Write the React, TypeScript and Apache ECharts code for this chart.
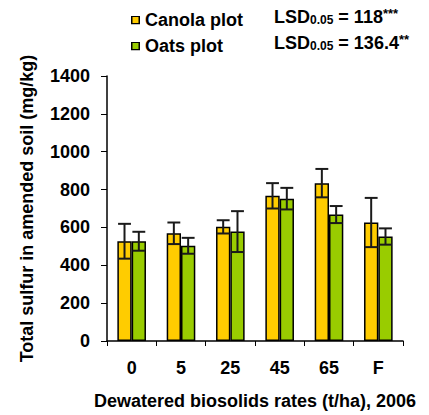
import React, { useEffect, useRef } from "react";
import * as echarts from "echarts";

const categories = ["0", "5", "25", "45", "65", "F"];
const canolaMean = [527, 569, 603, 767, 834, 626];
const canolaErr = [92, 57, 35, 67, 75, 130];
const oatsMean = [527, 503, 578, 752, 668, 552];
const oatsErr = [50, 42, 108, 57, 45, 43];
const seriesNames = ["Canola plot", "Oats plot"];
const lsdLines = [
  { value: "118", stars: "***" },
  { value: "136.4", stars: "**" },
];
const yMax = 1400;
const yInterval = 200;

const FONT = "Liberation Sans, Arial, sans-serif";
const CANOLA = "#FFCC00";
const OATS = "#99CC00";
const GAP = 0.42;

function boxIcon(color: string) {
  const svg =
    "<svg xmlns='http://www.w3.org/2000/svg' width='9' height='9' viewBox='0 0 9 9'>" +
    "<rect x='0.75' y='0.75' width='7.5' height='7.5' fill='" + color + "' stroke='#000' stroke-width='1.5'/></svg>";
  return "image://data:image/svg+xml;charset=utf-8," + encodeURIComponent(svg);
}

function errSeries(name: string, means: number[], errs: number[], side: number) {
  return {
    type: "custom",
    name: name + " err",
    z: 10,
    silent: true,
    data: means.map((m, i) => [i, m - errs[i], m + errs[i]]),
    encode: { x: 0, y: [1, 2] },
    renderItem: (params: any, api: any) => {
      const idx = api.value(0);
      const band = api.size([1, 0])[0];
      const bw = (band * (1 - GAP)) / 2;
      const lo = api.coord([idx, api.value(1)]);
      const hi = api.coord([idx, api.value(2)]);
      const x = lo[0] + side * bw / 2;
      const cap = bw * 0.45;
      const style = { stroke: "#1a1a1a", lineWidth: 2 };
      return {
        type: "group",
        children: [
          { type: "line", shape: { x1: x, y1: lo[1], x2: x, y2: hi[1] }, style },
          { type: "line", shape: { x1: x - cap, y1: hi[1], x2: x + cap, y2: hi[1] }, style },
          { type: "line", shape: { x1: x - cap, y1: lo[1], x2: x + cap, y2: lo[1] }, style },
        ],
      };
    },
  };
}

export default function App() {
  const ref = useRef<HTMLDivElement>(null);
  useEffect(() => {
    if (!ref.current) return;
    const chart = echarts.init(ref.current, null, { renderer: "svg" });
    chart.setOption({
      animation: false,
      textStyle: { fontFamily: FONT },
      legend: {
        orient: "vertical",
        left: 126,
        top: 6,
        itemWidth: 9,
        itemHeight: 9,
        itemGap: 8,
        data: [
          { name: seriesNames[0], icon: boxIcon(CANOLA) },
          { name: seriesNames[1], icon: boxIcon(OATS) },
        ],
        textStyle: { fontFamily: FONT, fontSize: 18, fontWeight: "bold", color: "#000", lineHeight: 18 },
      },
      graphic: lsdLines.map((l, i) => ({
        type: "text",
        left: 274,
        top: 7 + i * 26,
        style: {
          text: "{m|LSD}{s|0.05}{m| = " + l.value + "}{t|" + l.stars + "}",
          rich: {
            m: { fontFamily: FONT, fontSize: 18, fontWeight: "bold", fill: "#000", verticalAlign: "bottom" },
            s: { fontFamily: FONT, fontSize: 12, fontWeight: "bold", fill: "#000", padding: [8, 0, 0, 0], verticalAlign: "bottom" },
            t: { fontFamily: FONT, fontSize: 13, fontWeight: "bold", fill: "#000", padding: [0, 0, 6, 0], verticalAlign: "bottom" },
          },
        },
      })),
      grid: { left: 107, right: 26, top: 76, bottom: 71 },
      xAxis: {
        type: "category",
        data: categories,
        name: "Dewatered biosolids rates (t/ha), 2006",
        nameLocation: "middle",
        nameGap: 51,
        nameTextStyle: { fontFamily: FONT, fontSize: 18, fontWeight: "bold", color: "#000" },
        axisLine: { lineStyle: { color: "#000", width: 1.5 } },
        axisTick: { show: true, length: 5, lineStyle: { color: "#000", width: 1 } },
        axisLabel: { fontFamily: FONT, fontSize: 18, fontWeight: "bold", color: "#000", margin: 18 },
        splitLine: { show: false },
      },
      yAxis: {
        type: "value",
        min: 0,
        max: yMax,
        interval: yInterval,
        name: "Total sulfur in amended soil (mg/kg)",
        nameLocation: "middle",
        nameGap: 71,
        nameTextStyle: { fontFamily: FONT, fontSize: 18, fontWeight: "bold", color: "#000" },
        axisLine: { show: true, lineStyle: { color: "#000", width: 1.5 } },
        axisTick: { show: true, length: 6, lineStyle: { color: "#000", width: 1 } },
        axisLabel: {
          fontFamily: FONT,
          fontSize: 18,
          fontWeight: "bold",
          color: "#000",
          margin: 17,
          formatter: (v: number) => String(v),
        },
        splitLine: { show: false },
      },
      series: [
        {
          type: "bar",
          name: seriesNames[0],
          data: canolaMean,
          barGap: "0%",
          barCategoryGap: GAP * 100 + "%",
          itemStyle: { color: CANOLA, borderColor: "#000", borderWidth: 1.5 },
        },
        {
          type: "bar",
          name: seriesNames[1],
          data: oatsMean,
          barGap: "0%",
          barCategoryGap: GAP * 100 + "%",
          itemStyle: { color: OATS, borderColor: "#000", borderWidth: 1.5 },
        },
        errSeries(seriesNames[0], canolaMean, canolaErr, -1),
        errSeries(seriesNames[1], oatsMean, oatsErr, 1),
      ],
    });
    return () => chart.dispose();
  }, []);
  return <div ref={ref} style={{ width: 429, height: 415, position: "absolute", left: 0, top: 0 }} />;
}
